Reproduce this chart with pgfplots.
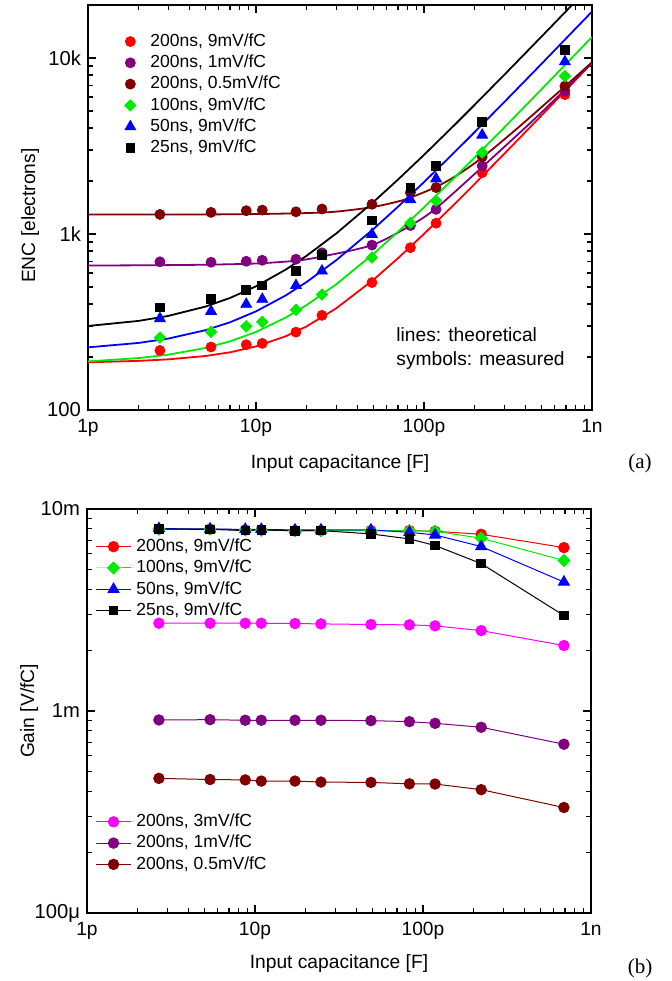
\documentclass[border=0pt]{standalone}
\usepackage{fontspec}
\setmainfont{Liberation Sans}
\newfontfamily\seriffont{Liberation Serif}
\usepackage{pgfplots}
\pgfplotsset{compat=1.18}
\definecolor{cred}{RGB}{255,0,0}
\definecolor{cpurple}{RGB}{128,0,128}
\definecolor{cdred}{RGB}{128,0,0}
\definecolor{cgreen}{RGB}{0,235,0}
\definecolor{cblue}{RGB}{0,0,255}
\definecolor{cmag}{RGB}{255,0,255}

\begin{document}
\begin{tikzpicture}
\path[use as bounding box] (0pt,0pt) rectangle (335.5pt,-490.5pt);

% ---------------- (a) ENC ----------------
\begin{axis}[at={(44pt,-205pt)}, anchor=south west,
  scale only axis, width=252pt, height=202.5pt,
  xmode=log, ymode=log, xmin=1, xmax=1000,
  xtick={1,10,100,1000}, xticklabels={1p,10p,100p,1n},
  minor xtick={2,3,4,5,6,7,8,9,20,30,40,50,60,70,80,90,200,300,400,500,600,700,800,900},
  ymin=100, ymax=20000, ytick={100,1000,10000}, yticklabels={100,1k,10k},
  minor ytick={200,300,400,500,600,700,800,900,2000,3000,4000,5000,6000,7000,8000,9000},
  tick align=inside, major tick length=3.8pt, minor tick length=2.4pt,
  axis line style={line width=0.8pt},
  every tick/.style={line width=0.6pt, black},
  xticklabel style={font=\fontsize{9.6}{11}\selectfont, yshift=-1.2pt},
  yticklabel style={font=\fontsize{10.1}{12}\selectfont},
  xlabel={Input capacitance [F]}, ylabel={ENC [electrons]},
  xlabel style={at={(axis description cs:0.5,-0.131)}, anchor=center, font=\fontsize{9.6}{11}\selectfont},
  ylabel style={at={(axis description cs:-0.115,0.48)}, anchor=center, font=\fontsize{9.6}{11}\selectfont},
  legend cell align=left,
  legend style={at={(0.072,0.940)}, anchor=north west, draw=none, fill=none, inner sep=0pt,
      row sep=-1.2pt, column sep=5.2pt, font=\fontsize{8.75}{10}\selectfont}]
% theoretical lines
\addplot[cred, line width=0.9pt, forget plot] coordinates {(1,186.7)(2,190.2)(3,194.0)(5,202.7)(7,212.7)(10,229.7)(15,262.2)(20,298.5)(30,377.8)(50,549.4)(70,728.1)(100,1001)(150,1461)(200,1924)(300,2851)(500,4709)(1000,9357)};
\addplot[cpurple, line width=0.9pt, smooth, forget plot] coordinates {(1,662)(2.7,665)(5.4,670)(10,680)(17.3,705)(24.7,745)(49,865)(83,1117)(118,1400)(222,2400)(500,4900)(1000,9400)};
\addplot[cdred, line width=0.9pt, smooth, forget plot] coordinates {(1,1289)(5,1292)(10,1298)(20,1315)(30,1340)(49,1420)(70,1530)(83,1610)(118,1850)(160,2180)(222,2718)(350,3900)(500,5250)(685,6850)(1000,9450)};
\addplot[cgreen, line width=0.9pt, forget plot] coordinates {(1,188.9)(2,197.3)(3,206.2)(5,225.1)(7,245.4)(10,277.6)(15,334.7)(20,394.2)(30,517.5)(50,771.2)(70,1028.6)(100,1417)(150,2067)(200,2718)(300,4022)(500,6631)(1000,13155)};
\addplot[cblue, line width=0.9pt, forget plot] coordinates {(1,227.0)(2,240.5)(3,254.5)(5,284.1)(7,315.0)(10,363.4)(15,447.1)(20,533.3)(30,709.2)(50,1067.2)(70,1428.3)(100,1971.9)(150,2879.9)(200,3788.9)(300,5607.8)(500,9246.9)(1000,18346)};
\addplot[black, line width=0.9pt, forget plot] coordinates {(1,300.2)(2,320.8)(3,342.3)(5,386.8)(7,433.0)(10,504.3)(15,626.9)(20,751.9)(30,1005.7)(50,1519.7)(70,2036.7)(100,2814.3)(150,4112.3)(200,5411.3)(300,8010)(500,13209)(770,20228)(1000,26208)};
% measured
\addplot[only marks, mark=*, mark size=2.5pt, cred, mark options={fill=cred, draw=cred}] coordinates {(2.68,218)(5.4,228)(8.75,235)(10.9,239)(17.3,277)(24.7,345)(49,530)(83,836)(118,1152)(222,2230)(690,6190)};
\addlegendentry{200ns, 9mV/fC}
\addplot[only marks, mark=*, mark size=2.5pt, cpurple, mark options={fill=cpurple, draw=cpurple}] coordinates {(2.68,695)(5.4,691)(8.75,700)(10.9,709)(17.3,719)(24.7,782)(49,865)(83,1117)(118,1380)(222,2436)(690,6480)};
\addlegendentry{200ns, 1mV/fC}
\addplot[only marks, mark=*, mark size=2.5pt, cdred, mark options={fill=cdred, draw=cdred}] coordinates {(2.68,1292)(5.4,1327)(8.75,1356)(10.9,1367)(17.3,1337)(24.7,1386)(49,1475)(83,1719)(118,1836)(222,2744)(690,6920)};
\addlegendentry{200ns, 0.5mV/fC}
\addplot[only marks, mark=square*, mark size=2.0pt, cgreen, mark options={rotate=45, fill=cgreen, draw=cgreen}] coordinates {(2.68,258)(5.4,278)(8.75,299)(10.9,317)(17.3,371)(24.7,453)(49,735)(83,1156)(118,1546)(222,2904)(690,7890)};
\addlegendentry{100ns, 9mV/fC}
\addplot[only marks, mark=triangle*, mark size=3.1pt, cblue, mark options={fill=cblue, draw=cblue}] coordinates {(2.68,331)(5.4,364)(8.75,399)(10.9,426)(17.3,510)(24.7,617)(49,996)(83,1567)(118,2060)(222,3650)(690,9530)};
\addlegendentry{50ns, 9mV/fC}
\addplot[only marks, mark=square*, mark size=2.2pt, black, mark options={fill=black, draw=black}] coordinates {(2.68,383)(5.4,426)(8.75,480)(10.9,510)(17.3,619)(24.7,758)(49,1194)(83,1829)(118,2436)(222,4315)(690,11130)};
\addlegendentry{25ns, 9mV/fC}
\node[anchor=base west, font=\fontsize{9.6}{11}\selectfont] at (rel axis cs:0.598,0.170) {lines: theoretical};
\node[anchor=base west, font=\fontsize{9.6}{11}\selectfont] at (rel axis cs:0.598,0.111) {symbols: measured};
\end{axis}

% ---------------- (b) Gain ----------------
\begin{axis}[at={(43.5pt,-456.5pt)}, anchor=south west,
  scale only axis, width=252pt, height=202pt,
  xmode=log, ymode=log, xmin=1, xmax=1000,
  xtick={1,10,100,1000}, xticklabels={1p,10p,100p,1n},
  minor xtick={2,3,4,5,6,7,8,9,20,30,40,50,60,70,80,90,200,300,400,500,600,700,800,900},
  ymin=0.1, ymax=10, ytick={0.1,1,10}, yticklabels={100μ,1m,10m},
  minor ytick={0.2,0.3,0.4,0.5,0.6,0.7,0.8,0.9,2,3,4,5,6,7,8,9},
  tick align=inside, major tick length=3.8pt, minor tick length=2.4pt,
  axis line style={line width=0.8pt},
  every tick/.style={line width=0.6pt, black},
  xticklabel style={font=\fontsize{9.6}{11}\selectfont, yshift=-1.2pt},
  yticklabel style={font=\fontsize{10.1}{12}\selectfont},
  xlabel={Input capacitance [F]}, ylabel={Gain [V/fC]},
  xlabel style={at={(axis description cs:0.5,-0.124)}, anchor=center, font=\fontsize{9.6}{11}\selectfont},
  ylabel style={at={(axis description cs:-0.115,0.5)}, anchor=center, font=\fontsize{9.6}{11}\selectfont},
  legend cell align=left,
  legend style={at={(0.017,0.937)}, anchor=north west, draw=none, fill=none, inner sep=0pt,
      row sep=-1.2pt, column sep=0.6pt, font=\fontsize{8.75}{10}\selectfont}]
\addplot[cred, line width=0.5pt, mark=*, mark size=2.6pt, mark options={fill=cred, draw=cred}] coordinates {(2.68,7.96)(5.4,7.96)(8.75,7.88)(10.9,7.88)(17.3,7.82)(24.7,7.82)(49,7.82)(83,7.82)(118,7.76)(222,7.50)(690,6.44)};
\addlegendentry{200ns, 9mV/fC}
\addplot[cgreen, line width=0.5pt, mark=square*, mark size=2.1pt, mark options={rotate=45, fill=cgreen, draw=cgreen}] coordinates {(2.68,7.96)(5.4,7.96)(8.75,7.88)(10.9,7.85)(17.3,7.82)(24.7,7.82)(49,7.82)(83,7.82)(118,7.76)(222,7.17)(690,5.56)};
\addlegendentry{100ns, 9mV/fC}
\addplot[cblue, line width=0.5pt, mark=triangle*, mark size=3.1pt, mark options={fill=cblue, draw=cblue}] coordinates {(2.68,8.0)(5.4,7.96)(8.75,7.93)(10.9,7.93)(17.3,7.88)(24.7,7.88)(49,7.88)(83,7.67)(118,7.44)(222,6.52)(690,4.35)};
\addlegendentry{50ns, 9mV/fC}
\addplot[black, line width=0.5pt, mark=square*, mark size=2.1pt, mark options={fill=black, draw=black}] coordinates {(2.68,7.96)(5.4,7.93)(8.75,7.82)(10.9,7.88)(17.3,7.80)(24.7,7.82)(49,7.53)(83,7.11)(118,6.60)(222,5.37)(690,2.97)};
\addlegendentry{25ns, 9mV/fC}
\end{axis}

\begin{axis}[at={(43.5pt,-456.5pt)}, anchor=south west,
  scale only axis, width=252pt, height=202pt, hide axis,
  xmode=log, ymode=log, xmin=1, xmax=1000, ymin=0.1, ymax=10,
  legend cell align=left,
  legend style={at={(0.017,0.256)}, anchor=north west, draw=none, fill=none, inner sep=0pt,
      row sep=-1.2pt, column sep=0.6pt, font=\fontsize{8.75}{10}\selectfont}]
\addplot[cmag, line width=0.5pt, mark=*, mark size=2.6pt, mark options={fill=cmag, draw=cmag}] coordinates {(2.68,2.72)(5.4,2.72)(8.75,2.72)(10.9,2.72)(17.3,2.71)(24.7,2.70)(49,2.68)(83,2.67)(118,2.64)(222,2.50)(690,2.11)};
\addlegendentry{200ns, 3mV/fC}
\addplot[cpurple, line width=0.5pt, mark=*, mark size=2.6pt, mark options={fill=cpurple, draw=cpurple}] coordinates {(2.68,0.903)(5.4,0.906)(8.75,0.900)(10.9,0.900)(17.3,0.900)(24.7,0.900)(49,0.896)(83,0.886)(118,0.869)(222,0.831)(690,0.685)};
\addlegendentry{200ns, 1mV/fC}
\addplot[cdred, line width=0.5pt, mark=*, mark size=2.6pt, mark options={fill=cdred, draw=cdred}] coordinates {(2.68,0.464)(5.4,0.458)(8.75,0.456)(10.9,0.450)(17.3,0.450)(24.7,0.445)(49,0.443)(83,0.436)(118,0.435)(222,0.408)(690,0.333)};
\addlegendentry{200ns, 0.5mV/fC}
\end{axis}

\node[font=\seriffont\fontsize{10.5}{12}\selectfont] at (320pt,-231.5pt) {(a)};
\node[font=\seriffont\fontsize{10.5}{12}\selectfont] at (320pt,-484pt) {(b)};
\end{tikzpicture}
\end{document}
